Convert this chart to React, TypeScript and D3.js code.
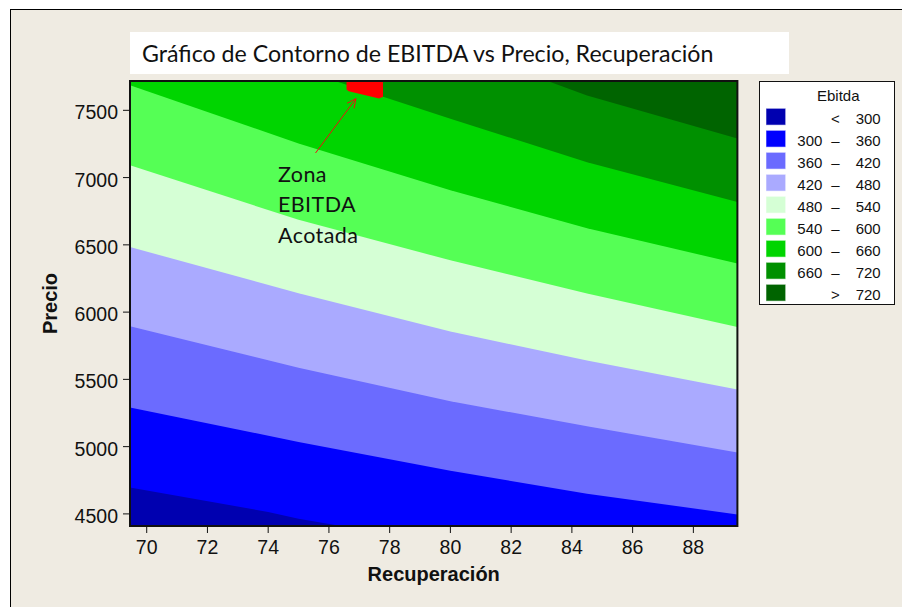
import React from 'react';
import * as d3 from 'd3';

const W = 902;
const H = 607;

// Axis ranges and tick labels
const recupDomain: [number, number] = [69.45, 89.45];
const precioDomain: [number, number] = [4410, 7718];
const recupTicks = [70, 72, 74, 76, 78, 80, 82, 84, 86, 88];
const precioTicks = [4500, 5000, 5500, 6000, 6500, 7000, 7500];

// Contour levels of EBITDA and the fill of each band (lowest to highest)
const levels = [300, 360, 420, 480, 540, 600, 660, 720];
const bandColors = ['#0000B0', '#0000FF', '#6B6BFF', '#AAAAFF', '#D5FFD5', '#55FF55', '#00D500', '#009000', '#006400'];

// Contour lines as [Recuperación, Precio] pairs
const line300: [number, number][] = [[69.45, 4696], [74, 4515], [75, 4464], [76.4, 4410], [89.45, 3880]];
const line360: [number, number][] = [[69.45, 5291], [75, 5035], [80, 4820], [84.5, 4650], [89.45, 4496]];
const line420: [number, number][] = [[69.45, 5895], [75, 5587], [80, 5338], [84.5, 5151], [89.45, 4956]];
const line480: [number, number][] = [[69.45, 6484], [75, 6140], [80, 5855], [84.5, 5640], [89.45, 5424]];
const line540: [number, number][] = [[69.45, 7091], [75, 6686], [80, 6385], [84.5, 6138], [89.45, 5890]];
const line600: [number, number][] = [[69.45, 7686], [75, 7254], [80, 6905], [84.5, 6624], [89.45, 6361]];
const line660: [number, number][] = [[69.45, 8220], [76.2, 7718], [80, 7438], [84.5, 7114], [89.45, 6819]];
const line720: [number, number][] = [[69.45, 8750], [83.2, 7718], [84.5, 7610], [89.45, 7290]];
const contourLines = [line300, line360, line420, line480, line540, line600, line660, line720];

// Bounded EBITDA zone and its pointer
const zonePolygon: [number, number][] = [[76.58, 7730], [77.78, 7730], [77.78, 7600], [77.65, 7588], [76.65, 7642], [76.58, 7655]];
const arrowFrom: [number, number] = [75.56, 7183];
const arrowTo: [number, number] = [76.89, 7587];
const zoneLabel = ['Zona', 'EBITDA', 'Acotada'];

const titleText = 'Gráfico de Contorno de EBITDA vs Precio, Recuperación';
const xTitle = 'Recuperación';
const yTitle = 'Precio';
const legendTitle = 'Ebitda';

const plot = { left: 130, top: 81, right: 737.4, bottom: 526 };
const axisFont = '"Liberation Sans", Arial, sans-serif';
const textFont = 'Lato, "Open Sans", sans-serif';

export default function App() {
  const x = d3.scaleLinear().domain(recupDomain).range([plot.left, plot.right]);
  const y = d3.scaleLinear().domain(precioDomain).range([plot.bottom, plot.top]);

  // Area above each contour line, painted from the lowest level upward
  const above = d3
    .area<[number, number]>()
    .x((d) => x(d[0]))
    .y0((d) => y(d[1]))
    .y1(() => y(9500))
    .curve(d3.curveLinear);

  const poly = d3
    .line<[number, number]>()
    .x((d) => x(d[0]))
    .y((d) => y(d[1]));

  const legendRows = bandColors.map((c, i) => {
    if (i === 0) return { c, a: '', s: '<', b: String(levels[0]) };
    if (i === levels.length) return { c, a: '', s: '>', b: String(levels[levels.length - 1]) };
    return { c, a: String(levels[i - 1]), s: '–', b: String(levels[i]) };
  });

  // Arrowhead geometry
  const ax0 = x(arrowFrom[0]);
  const ay0 = y(arrowFrom[1]);
  const ax1 = x(arrowTo[0]);
  const ay1 = y(arrowTo[1]);
  const ang = Math.atan2(ay1 - ay0, ax1 - ax0);
  const headLen = 10;
  const headSpread = 0.45;
  const h1 = [ax1 - headLen * Math.cos(ang - headSpread), ay1 - headLen * Math.sin(ang - headSpread)];
  const h2 = [ax1 - headLen * Math.cos(ang + headSpread), ay1 - headLen * Math.sin(ang + headSpread)];

  return (
    <svg
      width={W}
      height={H}
      style={{ position: 'absolute', left: 0, top: 0, display: 'block' }}
    >
      <rect x={0} y={0} width={W} height={H} fill="#ffffff" />
      <rect x={10.5} y={9.5} width={W + 20} height={H + 20} fill="#EFEBE2" stroke="#000" strokeWidth={1} />

      {/* title box */}
      <rect x={130} y={32} width={659} height={42} fill="#ffffff" />
      <text x={142} y={62} fontFamily={textFont} fontSize={23.2} fill="#111">
        {titleText}
      </text>

      <defs>
        <clipPath id="plotClip">
          <rect x={plot.left} y={plot.top} width={plot.right - plot.left} height={plot.bottom - plot.top} />
        </clipPath>
      </defs>

      <g clipPath="url(#plotClip)">
        <rect x={plot.left} y={plot.top} width={plot.right - plot.left} height={plot.bottom - plot.top} fill={bandColors[0]} />
        {contourLines.map((ln, i) => (
          <path key={i} d={above(ln) || ''} fill={bandColors[i + 1]} />
        ))}
        <path d={poly(zonePolygon) + 'Z'} fill="#FF0000" />
      </g>

      {/* plot frame */}
      <rect
        x={plot.left}
        y={plot.top}
        width={plot.right - plot.left}
        height={plot.bottom - plot.top}
        fill="none"
        stroke="#111"
        strokeWidth={2}
      />

      {/* y axis */}
      {precioTicks.map((t) => (
        <g key={t}>
          <line x1={plot.left - 7} x2={plot.left} y1={y(t)} y2={y(t)} stroke="#111" strokeWidth={1} />
          <text x={118} y={y(t) + 9} textAnchor="end" fontFamily={axisFont} fontSize={19.5} fill="#111">
            {t}
          </text>
        </g>
      ))}
      {/* x axis */}
      {recupTicks.map((t) => (
        <g key={t}>
          <line x1={x(t)} x2={x(t)} y1={plot.bottom} y2={plot.bottom + 7} stroke="#111" strokeWidth={1} />
          <text x={x(t)} y={554} textAnchor="middle" fontFamily={axisFont} fontSize={19.5} fill="#111">
            {t}
          </text>
        </g>
      ))}
      <text x={(plot.left + plot.right) / 2} y={581} textAnchor="middle" fontFamily={axisFont} fontSize={20} fontWeight="bold" fill="#111">
        {xTitle}
      </text>
      <text
        transform={`translate(57, ${(plot.top + plot.bottom) / 2}) rotate(-90)`}
        textAnchor="middle"
        fontFamily={axisFont}
        fontSize={20}
        fontWeight="bold"
        fill="#111"
      >
        {yTitle}
      </text>

      {/* annotation */}
      <line x1={ax0} y1={ay0} x2={ax1} y2={ay1} stroke="#EE1010" strokeWidth={1} />
      <polyline points={`${h1[0]},${h1[1]} ${ax1},${ay1} ${h2[0]},${h2[1]}`} fill="none" stroke="#EE1010" strokeWidth={1} />
      {zoneLabel.map((s, i) => (
        <text key={s} x={278} y={181.7 + i * 30.5} fontFamily={textFont} fontSize={21.5} letterSpacing={0.4} fill="#111">
          {s}
        </text>
      ))}

      {/* legend */}
      <rect x={759.5} y={81.5} width={135} height={223} fill="#ffffff" stroke="#111" strokeWidth={1} />
      <text x={838.3} y={100.7} textAnchor="middle" fontFamily={axisFont} fontSize={15} fill="#111">
        {legendTitle}
      </text>
      {legendRows.map((r, i) => {
        const top = 108.3 + i * 22;
        return (
          <g key={i}>
            <rect x={766} y={top} width={19.7} height={16.8} fill={r.c} stroke="rgba(255,255,255,0.55)" strokeWidth={1} />
            {r.a && (
              <text x={797.3} y={top + 15.5} fontFamily={axisFont} fontSize={15} fill="#111">
                {r.a}
              </text>
            )}
            <text x={835.5} y={top + 15.5} textAnchor="middle" fontFamily={axisFont} fontSize={15} fill="#111">
              {r.s}
            </text>
            <text x={880.7} y={top + 15.5} textAnchor="end" fontFamily={axisFont} fontSize={15} fill="#111">
              {r.b}
            </text>
          </g>
        );
      })}
    </svg>
  );
}
